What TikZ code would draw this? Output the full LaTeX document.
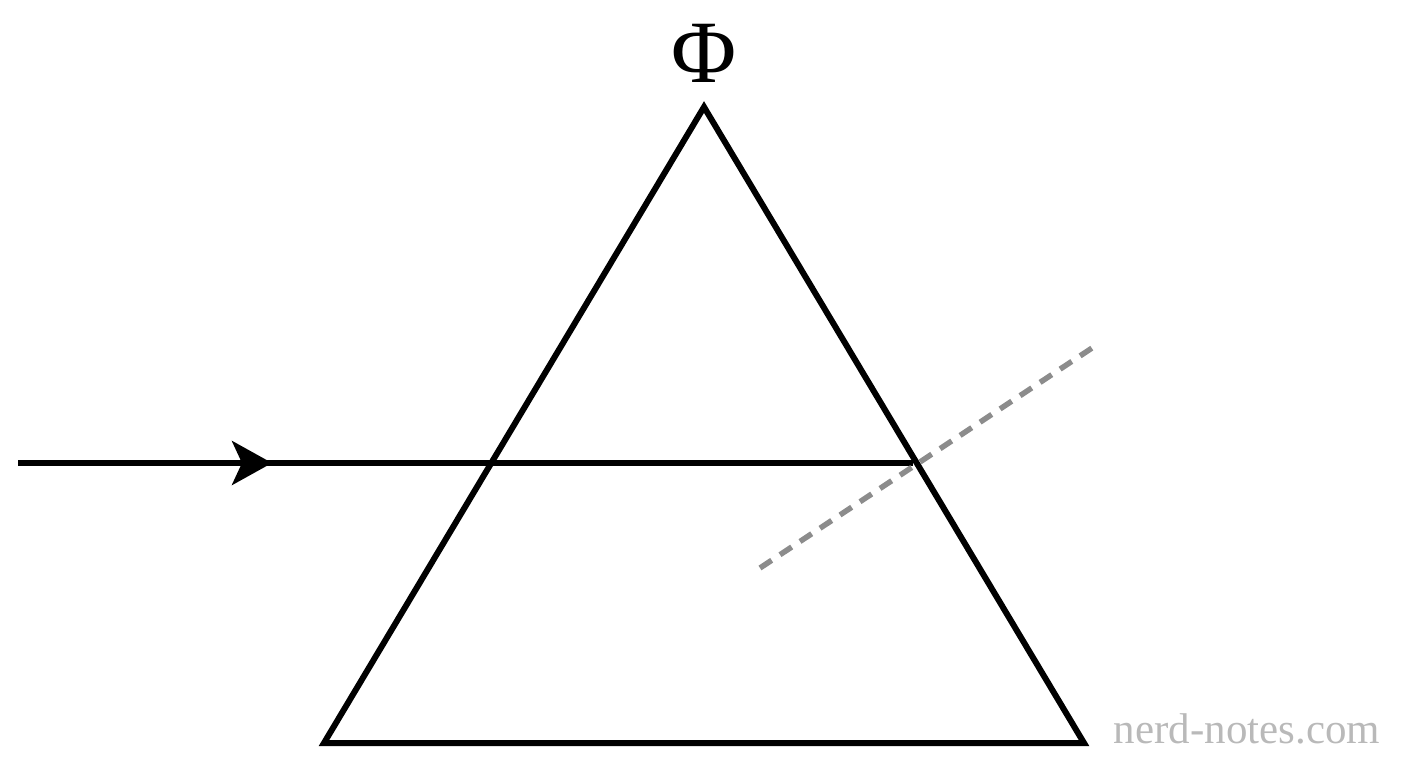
\documentclass[tikz,border=0pt]{standalone}
\usepackage{fontspec}
\newfontfamily\wmfont{Liberation Serif}
\usetikzlibrary{arrows.meta}
\definecolor{dashgray}{RGB}{140,140,140}
\definecolor{wmgray}{RGB}{185,185,185}
\tikzset{
  prism/.style={line width=6pt, line join=miter},
  ray/.style={line width=5.5pt},
  normalline/.style={line width=5.5pt, dashgray, dash pattern=on 14pt off 10pt},
  arrowmark/.style={-{Stealth[length=40pt,width=44pt,inset=10pt]}}
}
\begin{document}
\begin{tikzpicture}[x=1pt,y=-1pt]
\useasboundingbox (0,0) rectangle (1408,768);
\coordinate (A) at (704,107);
\coordinate (B) at (324,743);
\coordinate (C) at (1084,743);
\draw[prism] (A) -- (B) -- (C) -- cycle;
\coordinate (S) at (18,463);
\coordinate (M) at (272,463);
\coordinate (E) at (913,463);
\draw[ray] (S) -- (E);
\draw[ray, arrowmark] (S) -- (M);
\coordinate (N1) at (760,568);
\coordinate (N2) at (1095,346);
\draw[normalline] (N1) -- (N2);
\node[inner sep=0pt] (phi) at (704,53) {\wmfont\fontsize{89}{92}\selectfont Φ};
\node[wmgray, anchor=center] (wm) at (1247,729) {\wmfont\fontsize{43}{46}\selectfont nerd-notes.com};
\end{tikzpicture}
\end{document}
